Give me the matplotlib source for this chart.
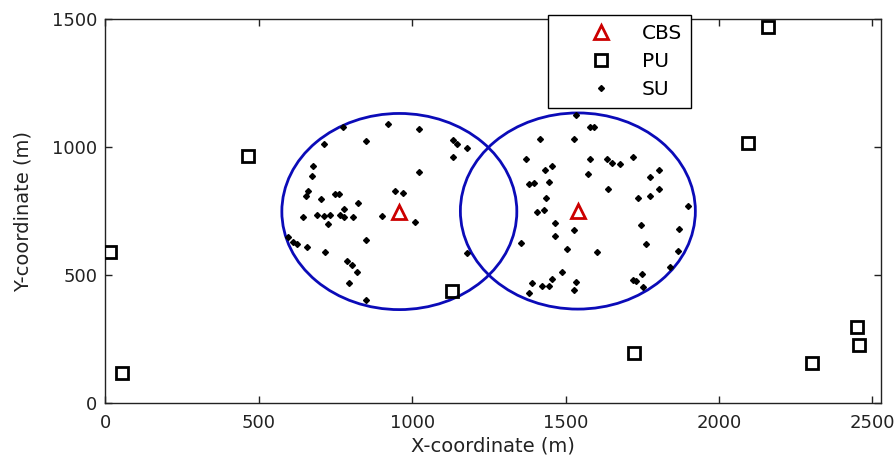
import matplotlib
matplotlib.use("Agg")
import matplotlib.pyplot as plt
from matplotlib.patches import Circle

plt.rcParams['font.family'] = ['DejaVu Sans']

cbs_x = [958, 1540]
cbs_y = [748, 750]
radius = 383

pu_x = [15, 55, 466, 1129, 1722, 2094, 2159, 2303, 2449, 2456]
pu_y = [591, 116, 965, 437, 194, 1014, 1467, 157, 297, 227]

su_x = [773, 922, 1022, 713, 848, 1134, 1147, 1178, 1132, 678, 672, 1022,
        661, 654, 749, 762, 944, 971, 703, 824, 778, 643, 689, 714, 732,
        765, 778, 806, 901, 727, 1009, 596, 610, 626, 656, 848, 716, 789,
        803, 819, 794, 848, 1178,
        1533, 1580, 1593, 1415, 1528, 1371, 1580, 1636, 1650, 1678, 1719,
        1457, 1433, 1572, 1806, 1775, 1382, 1397, 1446, 1637, 1806, 1775,
        1737, 1435, 1898, 1406, 1428, 1464, 1528, 1746, 1464, 1870, 1355,
        1762, 1504, 1602, 1865, 1839, 1487, 1748, 1719, 1730, 1457, 1390,
        1422, 1447, 1533, 1528, 1382, 1752]
su_y = [1079, 1090, 1072, 1010, 1025, 1027, 1012, 995, 962, 927, 887, 904,
        829, 810, 816, 816, 829, 822, 796, 783, 759, 725, 734, 730, 734,
        734, 728, 728, 731, 699, 706, 650, 630, 621, 609, 637, 590, 555,
        539, 513, 470, 402, 587,
        1125, 1079, 1079, 1030, 1030, 952, 952, 952, 939, 932, 962,
        927, 910, 893, 910, 884, 854, 858, 865, 835, 835, 809,
        800, 800, 770, 747, 754, 704, 676, 695, 654, 678, 624,
        621, 602, 589, 595, 533, 513, 504, 480, 478, 484, 470,
        457, 457, 474, 441, 431, 452]

fig = plt.figure(figsize=(8.96, 4.57), dpi=100)
ax = fig.add_axes([0.1177, 0.118, 0.8655, 0.8405])

circle_color = '#0b0bb8'
for cx, cy in zip(cbs_x, cbs_y):
    ax.add_patch(Circle((cx, cy), radius, fill=False, edgecolor=circle_color,
                        linewidth=2.0, zorder=2))

ax.plot(cbs_x, cbs_y, linestyle='none', marker='^', markersize=10,
        markerfacecolor='none', markeredgecolor='#cc0000', markeredgewidth=2,
        label='CBS', zorder=4)
ax.plot(pu_x, pu_y, linestyle='none', marker='s', markersize=9,
        markerfacecolor='none', markeredgecolor='black', markeredgewidth=2,
        label='PU', zorder=4)
ax.plot(su_x, su_y, linestyle='none', marker='D', markersize=3,
        markerfacecolor='black', markeredgecolor='black', label='SU', zorder=3)

ax.set_xlim(0, 2528)
ax.set_ylim(0, 1500)
ax.set_xticks([0, 500, 1000, 1500, 2000, 2500])
ax.set_yticks([0, 500, 1000, 1500])
ax.tick_params(direction='in', top=True, right=True, labelsize=13,
               length=5, width=1, colors='#222222', labelcolor='#222222')
ax.tick_params(axis='x', pad=8)
ax.tick_params(axis='y', pad=6)
for s in ax.spines.values():
    s.set_linewidth(1.0)
    s.set_color('#222222')

ax.set_xlabel('X-coordinate (m)', fontsize=14, color='#222222', labelpad=3)
ax.set_ylabel('Y-coordinate (m)', fontsize=14, color='#222222', labelpad=14)

leg = ax.legend(loc='upper left', bbox_to_anchor=(548 / 896, 1 - 15 / 457),
                bbox_transform=fig.transFigure, borderaxespad=0,
                fancybox=False, edgecolor='black', framealpha=1,
                fontsize=14.5, handlelength=4.4, handletextpad=-0.2,
                labelspacing=0.44, borderpad=0.45)
leg.get_frame().set_linewidth(1.0)

fig.savefig('out.png', dpi=100)
